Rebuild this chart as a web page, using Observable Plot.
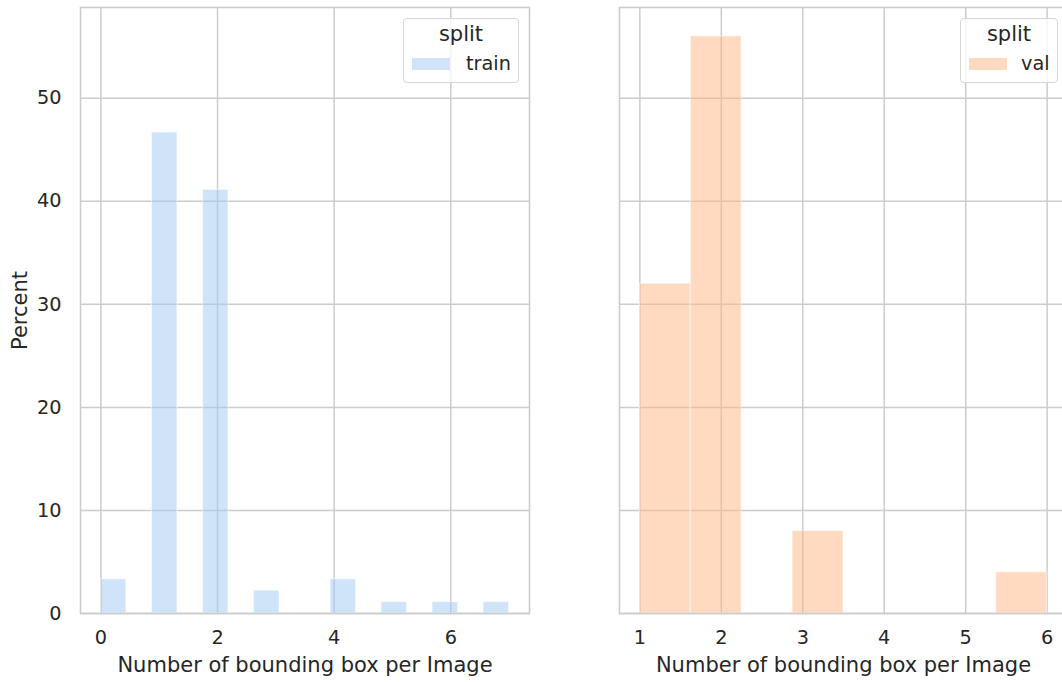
<!DOCTYPE html>
<html>
<head>
<meta charset="utf-8">
<script src="https://cdn.jsdelivr.net/npm/d3@7"></script>
<script src="https://cdn.jsdelivr.net/npm/@observablehq/plot@0.6"></script>
<style>
  html, body { margin: 0; padding: 0; background: white; overflow: hidden; }
  #wrap { position: relative; width: 1062px; height: 682px; overflow: hidden; font-family: "DejaVu Sans", sans-serif; color: #262626; }
  .panel { position: absolute; top: 0; }
  .legend { position: absolute; box-sizing: border-box; border: 1.3px solid #d6d6d6; border-radius: 4px; background: rgba(255,255,255,0.8); }
  .legend .title { position: absolute; left: 0; right: 0; text-align: center; font-size: 21px; line-height: 1; }
  .legend .swatch { position: absolute; height: 12px; }
  .legend .lab { position: absolute; font-size: 19.3px; line-height: 1; }
</style>
</head>
<body>
<div id="wrap"></div>
<script>
// ---- data ----
const trainValues = [0, 1, 2, 3, 4, 5, 6, 7];
const trainPercent = [3.33, 46.67, 41.11, 2.22, 3.33, 1.11, 1.11, 1.11];
const trainBins = 16;
const valValues = [1, 2, 3, 6];
const valPercent = [32, 56, 8, 4];
const valBins = 8;
const yTicks = [0, 10, 20, 30, 40, 50];
const trainTicks = [0, 2, 4, 6];
const valTicks = [1, 2, 3, 4, 5, 6];
const xLabel = "Number of bounding box per Image";
const yLabel = "Percent";
const legendTitle = "split";
const trainName = "train";
const valName = "val";
const trainColor = "#a1c9f4";
const valColor = "#ffb482";

function binRects(values, percents, nBins) {
  const lo = d3.min(values), hi = d3.max(values);
  const w = (hi - lo) / nBins;
  return values.map((v, i) => {
    const idx = Math.min(nBins - 1, Math.floor((v - lo) / w));
    const x1 = lo + idx * w;
    return {x1, x2: x1 + w, p: percents[i]};
  });
}

function padDomain(values) {
  const lo = d3.min(values), hi = d3.max(values), m = (hi - lo) * 0.05;
  return [lo - m, hi + m];
}

const yMax = d3.max([...trainPercent, ...valPercent]) * 1.05;
const gridStyle = {stroke: "#cccccc", strokeOpacity: 1, strokeWidth: 1.5};
const tickFont = 19.3, labelFont = 21;

function panel({values, percents, nBins, ticks, color, showY, marginLeft, marginRight}) {
  const rects = binRects(values, percents, nBins);
  return Plot.plot({
    width: 540, height: 682,
    marginLeft, marginRight, marginTop: 7, marginBottom: 69,
    style: {fontFamily: "DejaVu Sans", color: "#262626", background: "white", overflow: "visible"},
    x: {domain: padDomain(values), ticks, label: null, axis: null},
    y: {domain: [0, yMax], ticks: yTicks, label: null, axis: null},
    marks: [
      Plot.gridX(ticks, gridStyle),
      Plot.gridY(yTicks, gridStyle),
      Plot.rectY(rects, {x1: "x1", x2: "x2", y1: 0, y2: "p", fill: color, fillOpacity: 0.5, stroke: "white", strokeOpacity: 0.5, strokeWidth: 1.2}),
      Plot.frame({stroke: "#cccccc", strokeWidth: 1.6}),
      Plot.axisX(ticks, {tickSize: 0, tickPadding: 17, fontSize: tickFont, label: null}),
      showY ? Plot.axisY(yTicks, {tickSize: 0, tickPadding: 19, fontSize: tickFont, label: null}) : null,
      Plot.text([xLabel], {frameAnchor: "bottom", lineAnchor: "middle", dy: 52, fontSize: labelFont}),
      showY ? Plot.text([yLabel], {frameAnchor: "left", textAnchor: "middle", lineAnchor: "middle", dx: -60, rotate: -90, fontSize: labelFont}) : null
    ]
  });
}

const wrap = document.getElementById("wrap");
const left = panel({values: trainValues, percents: trainPercent, nBins: trainBins, ticks: trainTicks, color: trainColor, showY: true, marginLeft: 80, marginRight: 11});
left.classList.add("panel"); left.style.left = "0px";
wrap.appendChild(left);
const right = panel({values: valValues, percents: valPercent, nBins: valBins, ticks: valTicks, color: valColor, showY: false, marginLeft: 79, marginRight: 13});
right.classList.add("panel"); right.style.left = "540px";
wrap.appendChild(right);

function legend(x, y, w, name, color, labX) {
  const d = document.createElement("div");
  d.className = "legend";
  Object.assign(d.style, {left: x + "px", top: y + "px", width: w + "px", height: "65px"});
  d.innerHTML = `<div class="title" style="top:5px">${legendTitle}</div>
    <div class="swatch" style="left:8px;top:39px;width:38px;background:${color};opacity:0.5"></div>
    <div class="lab" style="left:${labX}px;top:35px">${name}</div>`;
  wrap.appendChild(d);
}
legend(403, 18, 116, trainName, trainColor, 62);
legend(960, 18, 98, valName, valColor, 60);
</script>
</body>
</html>
